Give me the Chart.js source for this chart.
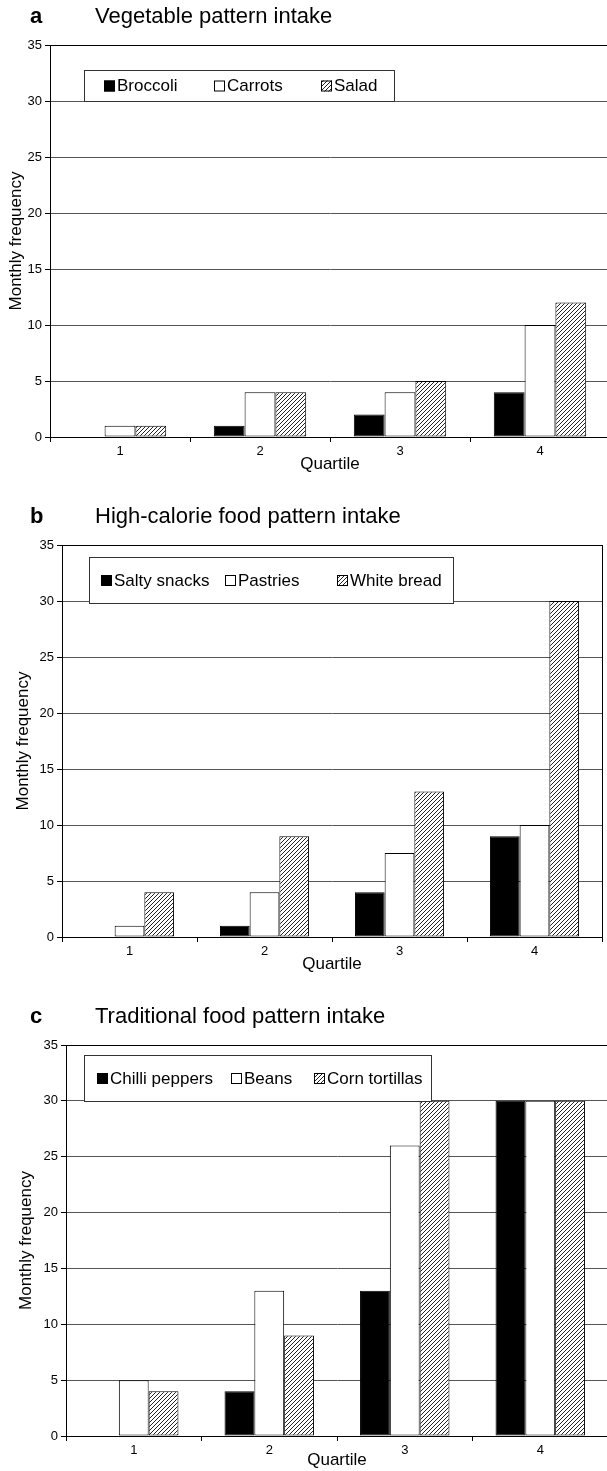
<!DOCTYPE html>
<html>
<head>
<meta charset="utf-8">
<script src="https://cdn.jsdelivr.net/npm/chart.js@4.4.1/dist/chart.umd.min.js"></script>
<style>
  body { margin: 0; background: #fff; overflow: hidden; width: 607px; height: 1471px;
         font-family: "Liberation Sans", Arial, sans-serif; color: #000; }
  .panel { position: absolute; left: 0; width: 607px; overflow: hidden; }
  .panel canvas { position: absolute; left: 0; top: 0; }
  .letter { position: absolute; left: 30px; top: 3px; font-size: 22px; font-weight: bold; }
  .title { position: absolute; left: 95px; top: 3px; font-size: 22px; }
</style>
</head>
<body>

<div class="panel" style="top:0; height:500px;">
  <canvas id="chartA" width="612" height="475"></canvas>
  <div class="letter">a</div><div class="title">Vegetable pattern intake</div>
</div>
<div class="panel" style="top:500px; height:500px;">
  <canvas id="chartB" width="607" height="475"></canvas>
  <div class="letter">b</div><div class="title">High-calorie food pattern intake</div>
</div>
<div class="panel" style="top:1000px; height:471px;">
  <canvas id="chartC" width="612" height="471"></canvas>
  <div class="letter">c</div><div class="title">Traditional food pattern intake</div>
</div>

<script>
// ---- data ----
const quartiles = ['1', '2', '3', '4'];
const yTicks = [0, 5, 10, 15, 20, 25, 30, 35];

const vegLabels = ['Broccoli', 'Carrots', 'Salad'];
const broccoli = [0, 1, 2, 4];
const carrots = [1, 4, 4, 10];
const salad = [1, 4, 5, 12];

const hcLabels = ['Salty snacks', 'Pastries', 'White bread'];
const saltySnacks = [0, 1, 4, 9];
const pastries = [1, 4, 7.5, 10];
const whiteBread = [4, 9, 13, 30];

const tradLabels = ['Chilli peppers', 'Beans', 'Corn tortillas'];
const chilliPeppers = [0, 4, 13, 30];
const beans = [5, 13, 26, 30];
const cornTortillas = [4, 9, 30, 30];

const FONT = '"Liberation Sans", Arial, sans-serif';

// diagonal hatch fill for the third series
function hatch(ctx) {
  const tile = document.createElement('canvas');
  tile.width = 4; tile.height = 4;
  const g = tile.getContext('2d');
  g.fillStyle = '#fff';
  g.fillRect(0, 0, 4, 4);
  g.strokeStyle = '#222';
  g.lineWidth = 1;
  g.beginPath();
  g.moveTo(0, 4); g.lineTo(4, 0);
  g.moveTo(-1, 1); g.lineTo(1, -1);
  g.moveTo(3, 5); g.lineTo(5, 3);
  g.stroke();
  return ctx.createPattern(tile, 'repeat');
}

// frame round the plot area
const framePlugin = {
  id: 'frame',
  beforeDatasetsDraw(chart) {
    const a = chart.chartArea, c = chart.ctx;
    c.save();
    c.strokeStyle = '#000';
    c.lineWidth = 1;
    c.strokeRect(Math.round(a.left) + 0.5, Math.round(a.top) + 0.5,
                 Math.round(a.right - a.left), Math.round(a.bottom - a.top));
    c.restore();
  }
};

// boxed legend inside the plot, Excel style
const boxLegend = {
  id: 'boxLegend',
  afterDraw(chart, args, opts) {
    const c = chart.ctx;
    c.save();
    c.fillStyle = '#fff';
    c.fillRect(opts.x, opts.y, opts.w, opts.h);
    c.strokeStyle = '#333';
    c.lineWidth = 1;
    c.strokeRect(opts.x + 0.5, opts.y + 0.5, opts.w, opts.h);
    c.font = '17px ' + FONT;
    c.textBaseline = 'middle';
    const cy = opts.y + opts.h / 2;
    chart.data.datasets.forEach((ds, i) => {
      const sx = opts.items[i];
      c.fillStyle = ds.backgroundColor;
      c.fillRect(sx, cy - 5, 11, 11);
      c.strokeStyle = '#000';
      c.strokeRect(sx + 0.5, cy - 4.5, 10, 10);
      c.fillStyle = '#000';
      c.fillText(ds.label, sx + 13, cy + 1);
    });
    c.restore();
  }
};

function makeChart(id, names, series, lay) {
  const canvas = document.getElementById(id);
  const ctx = canvas.getContext('2d');
  const fills = ['#000', '#fff', hatch(ctx)];

  return new Chart(ctx, {
    type: 'bar',
    data: {
      labels: quartiles,
      datasets: series.map((vals, i) => ({
        label: names[i],
        data: vals,
        backgroundColor: fills[i],
        borderColor: '#000',
        borderWidth: 1,
        borderSkipped: false,
        categoryPercentage: 0.66,
        barPercentage: 1.0
      }))
    },
    options: {
      responsive: false,
      animation: false,
      events: [],
      layout: { padding: { top: lay.top, right: canvas.width - lay.right, left: lay.pad, bottom: 0 } },
      plugins: {
        legend: { display: false },
        tooltip: { enabled: false },
        boxLegend: lay.legend
      },
      scales: {
        x: {
          afterFit: (s) => { s.height = canvas.height - lay.bottom; },
          grid: { drawOnChartArea: false, tickLength: 5, color: '#000' },
          border: { color: '#000', width: 1 },
          ticks: { color: '#000', font: { family: FONT, size: 13 }, padding: 2 },
          title: { display: true, text: 'Quartile', color: '#000',
                   font: { family: FONT, size: 17 }, padding: { top: 0, bottom: 0 } }
        },
        y: {
          min: 0,
          max: 35,
          afterBuildTicks: (s) => { s.ticks = yTicks.map(v => ({ value: v })); },
          afterFit: (s) => { s.width = lay.left - lay.pad; },
          grid: { color: '#555', lineWidth: 1, tickLength: 5, tickColor: '#000' },
          border: { color: '#000', width: 1 },
          ticks: { color: '#000', font: { family: FONT, size: 13 }, padding: 3 },
          title: { display: true, text: 'Monthly frequency', color: '#000',
                   font: { family: FONT, size: 17 }, padding: { top: 0, bottom: 0 } }
        }
      }
    },
    plugins: [framePlugin, boxLegend]
  });
}

makeChart('chartA', vegLabels, [broccoli, carrots, salad], {
  top: 45, bottom: 437, left: 50, right: 610, pad: 6,
  legend: { x: 84, y: 70, w: 310, h: 31, items: [104, 214, 321] }
});

makeChart('chartB', hcLabels, [saltySnacks, pastries, whiteBread], {
  top: 45, bottom: 437, left: 62, right: 602, pad: 13,
  legend: { x: 89, y: 57, w: 364, h: 46, items: [101, 225, 337] }
});

makeChart('chartC', tradLabels, [chilliPeppers, beans, cornTortillas], {
  top: 45, bottom: 436, left: 66, right: 608, pad: 16,
  legend: { x: 84, y: 55, w: 347, h: 46, items: [97, 231, 314] }
});
</script>
</body>
</html>
